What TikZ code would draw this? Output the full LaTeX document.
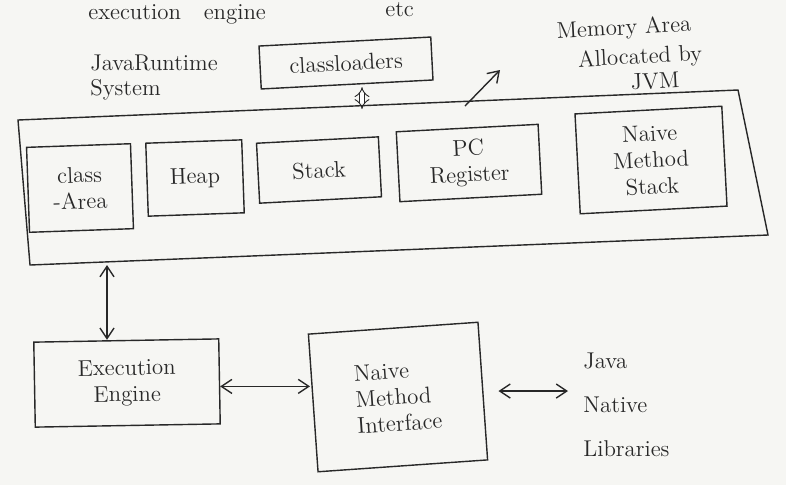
\documentclass[tikz,border=0pt]{standalone}
\usetikzlibrary{arrows.meta}
\definecolor{paper}{RGB}{246,246,243}
\definecolor{ink}{RGB}{40,40,40}
\newcommand\handfont{\fontsize{13}{15}\selectfont}
\begin{document}
\begin{tikzpicture}[x=0.02cm,y=-0.02cm,
  box/.style={draw=ink, line width=0.8pt, inner sep=2pt, align=center, font=\handfont, text=ink},
  lbl/.style={font=\handfont, align=left, text=ink, inner sep=0pt},
  twoway/.style={draw=ink, line width=0.8pt, {Straight Barb[length=6pt,width=8pt]}-{Straight Barb[length=6pt,width=8pt]}},
  oneway/.style={draw=ink, line width=0.8pt, -{Straight Barb[length=6pt,width=8pt]}}]
\fill[paper] (0,0) rectangle (786,485);
\useasboundingbox (0,0) rectangle (786,485);

% top text
\node[lbl, anchor=west] (exe) at (88,14) {execution\quad engine};
\node[lbl, anchor=west] (etc) at (385,10) {etc};

% Java runtime system
\node[lbl, anchor=west] (jrt) at (90,63) {JavaRuntime};
\node[lbl, anchor=west] (sys) at (90,90) {System};
\node[box, rotate=3, minimum width=3.44cm, minimum height=0.86cm] (cl) at (346,63) {classloaders};

% memory area label
\node[lbl, rotate=3] (mem1) at (624,29) {Memory Area};
\node[lbl, rotate=3] (mem2) at (640,58) {Allocated by};
\node[lbl, rotate=3] (mem3) at (655,81) {JVM};

% outer JVM memory box
\coordinate (o1) at (18,120);
\coordinate (o2) at (738,90);
\coordinate (o3) at (768,235);
\coordinate (o4) at (30,265);
\draw[ink, line width=0.8pt] (o1) -- (o2) -- (o3) -- (o4) -- cycle;

% inner boxes
\node[box, rotate=2, minimum width=2.08cm, minimum height=1.7cm] (ca) at (80,188) {class\\-Area};
\node[box, rotate=2, minimum width=1.92cm, minimum height=1.46cm] (heap) at (195,178) {Heap};
\node[box, rotate=3, minimum width=2.44cm, minimum height=1.2cm] (stack) at (319,170) {Stack};
\node[box, rotate=3, minimum width=2.84cm, minimum height=1.4cm] (pc) at (469,163) {PC\\Register};
\node[box, rotate=3, minimum width=2.94cm, minimum height=2.0cm] (nms) at (651,160) {Naive\\Method\\Stack};

% connectors near top
\coordinate (jtop) at (362,109);
\draw[ink, line width=0.5pt, double distance=2.5pt, {Implies[length=3pt]}-{Implies[length=3pt]}] ([yshift=-0.04cm]jtop |- cl.south) -- (jtop);
\coordinate (mstart) at (465,106);
\coordinate (mend) at (500,70);
\draw[oneway] (mstart) -- (mend);

% bottom row
\node[box, rotate=1, minimum width=3.7cm, minimum height=1.7cm] (ee) at (127,383) {Execution\\Engine};
\node[box, rotate=4, minimum width=3.4cm, minimum height=2.76cm, align=left] (nmi) at (398,397) {Naive\\Method\\Interface};
\node[lbl, anchor=west, font=\fontsize{13}{25}\selectfont] (jnl) at (583,405) {Java\\Native\\Libraries};

\coordinate (jbot) at (107,265);
\draw[twoway] (jbot) -- (jbot |- ee.north);
\draw[twoway] ([yshift=-0.1cm]ee.east) -- ([yshift=-0.1cm, xshift=-0.05cm]ee.east -| nmi.west);
\draw[twoway] ([xshift=0.3cm]nmi.east) -- ([xshift=-0.3cm]nmi.east -| jnl.west);
\end{tikzpicture}
\end{document}
